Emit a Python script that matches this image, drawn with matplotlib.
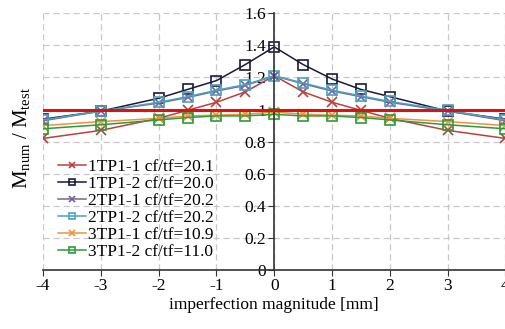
import numpy as np
import matplotlib.pyplot as plt

plt.rcParams['font.family'] = ['Liberation Serif', 'DejaVu Serif']
plt.rcParams['mathtext.fontset'] = 'stix'
plt.rcParams['axes.unicode_minus'] = False

# imperfection magnitude [mm]
imp = [-4, -3, -2, -1.5, -1, -0.5, 0, 0.5, 1, 1.5, 2, 3, 4]

tp11_1 = [0.82, 0.87, 0.945, 0.995, 1.045, 1.11, 1.21, 1.11, 1.045, 0.995, 0.945, 0.87, 0.82]
tp11_2 = [0.94, 0.99, 1.07, 1.125, 1.18, 1.28, 1.39, 1.28, 1.19, 1.125, 1.08, 0.99, 0.94]
tp21_1 = [0.93, 0.99, 1.04, 1.075, 1.115, 1.15, 1.21, 1.16, 1.115, 1.08, 1.045, 0.99, 0.93]
tp21_2 = [0.935, 0.99, 1.045, 1.08, 1.12, 1.155, 1.21, 1.165, 1.12, 1.085, 1.05, 0.995, 0.935]
tp31_1 = [0.90, 0.925, 0.945, 0.96, 0.965, 0.97, 0.985, 0.97, 0.965, 0.96, 0.945, 0.925, 0.90]
tp31_2 = [0.88, 0.905, 0.935, 0.95, 0.96, 0.96, 0.97, 0.96, 0.96, 0.95, 0.935, 0.905, 0.88]

labels = ['1TP1-1 cf/tf=20.1', '1TP1-2 cf/tf=20.0', '2TP1-1 cf/tf=20.2',
          '2TP1-2 cf/tf=20.2', '3TP1-1 cf/tf=10.9', '3TP1-2 cf/tf=11.0']
series = [tp11_1, tp11_2, tp21_1, tp21_2, tp31_1, tp31_2]
colors = ['#B8413C', '#1A1A35', '#7A5FA0', '#4AA3C0', '#F0913E', '#2E9A3A']
markers = ['x', 's', 'x', 's', 'x', 's']

fig = plt.figure(figsize=(5.06, 3.29), dpi=100)
ax = fig.add_axes([0.085, 0.179, 0.914, 0.781])

for y, lab, c, m in zip(series, labels, colors, markers):
    ax.plot(imp, y, color=c, marker=m, lw=1.1, ms=6.5,
            mfc='none' if m == 's' else c, mew=1.2, label=lab)

ax.axhline(1.0, color='#E01010', lw=2.2, zorder=3)

ax.set_xlim(-4, 4)
ax.set_ylim(0, 1.6)
ax.set_xticks(np.arange(-4, 5, 1))
ax.set_yticks(np.arange(0, 1.61, 0.2))
ax.set_yticklabels(['0', '0.2', '0.4', '0.6', '0.8', '1', '1.2', '1.4', '1.6'])

ax.spines['left'].set_position(('data', 0))
ax.spines['bottom'].set_position(('data', 0))
ax.spines['top'].set_visible(False)
ax.spines['right'].set_visible(False)
for s in ['left', 'bottom']:
    ax.spines[s].set_color('#333333')
    ax.spines[s].set_linewidth(1.2)
ax.tick_params(labelsize=12.5, direction='out', length=4, color='#333333', pad=2)
ax.grid(True, ls=(0, (5, 3)), color='#C8C8C8', lw=0.9)
ax.set_axisbelow(True)

ax.set_xlabel('imperfection magnitude [mm]', fontsize=12.5, labelpad=2)
fig.text(0.043, 0.58, r'$\mathregular{M_{num}\ /\ M_{test}}$', fontsize=15,
         rotation=90, ha='center', va='center')

ax.legend(loc='upper left', bbox_to_anchor=(0.032, 0.434), frameon=False,
          fontsize=12.5, labelspacing=0.05, handlelength=1.6, handletextpad=0.15,
          borderaxespad=0, borderpad=0, markerscale=0.65)

fig.savefig('out.png', dpi=100)
